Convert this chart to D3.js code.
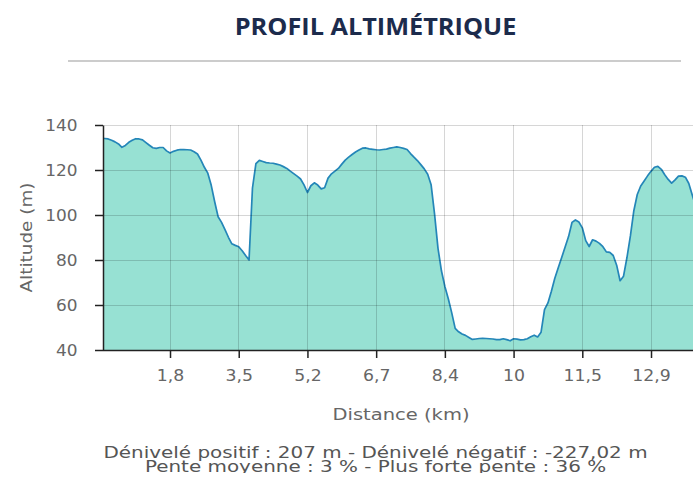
<!DOCTYPE html>
<html><head><meta charset="utf-8">
<script src="https://cdn.jsdelivr.net/npm/d3@7"></script>
<style>html,body{margin:0;padding:0;background:#fff;overflow:hidden}</style>
</head><body>
<svg id="c" width="693" height="478"></svg>
<script>
// Altitude samples (m), one per category index
const altitudes = [
134.2,134.0,133.8,133.2,132.5,131.6,130.1,130.9,132.3,133.2,
133.9,133.8,133.4,132.2,131.0,129.9,129.6,130.0,130.0,128.5,
127.6,128.3,128.8,129.1,129.1,129.0,128.9,128.1,127.1,124.4,
121.2,118.6,113.2,105.9,99.2,96.7,93.5,90.1,87.2,86.5,
85.9,84.1,82.0,80.0,112.0,122.8,124.3,123.8,123.3,123.1,
123.0,122.6,122.2,121.5,120.7,119.5,118.4,117.3,116.0,113.4,
110.0,113.0,114.3,113.3,111.6,112.1,116.4,118.3,119.5,120.7,
122.6,124.4,125.7,126.9,128.0,128.9,129.7,129.8,129.4,129.2,
129.0,128.9,129.1,129.3,129.7,130.0,130.3,130.0,129.6,129.1,
127.3,125.7,124.2,122.4,120.5,118.1,113.4,100.4,85.2,75.2,
68.2,62.8,56.5,49.6,48.1,47.1,46.5,45.6,44.7,44.9,
45.1,45.2,45.1,45.0,44.9,44.6,44.6,45.0,44.6,44.1,
45.0,44.8,44.5,44.6,45.0,45.9,46.6,45.8,47.9,57.9,
60.9,66.1,71.9,76.6,81.1,85.8,90.4,96.7,97.8,96.9,
94.3,88.6,86.0,89.0,88.4,87.4,85.9,83.6,83.4,82.0,
77.7,70.8,72.8,81.1,90.7,101.9,109.1,112.9,115.1,117.4,
119.4,121.2,121.6,120.3,117.9,115.8,114.2,115.6,117.3,117.4,
116.8,114.0,108.9,104.0,101.0,98.0
];
const tickIndices = [20,40,60,80,100,120,140,160];
const tickLabels = ["1,8","3,5","5,2","6,7","8,4","10","11,5","12,9"];
const yTicks = [40,60,80,100,120,140];
const titleText = "PROFIL ALTIMÉTRIQUE";
const statsLine1 = "Dénivelé positif : 207 m - Dénivelé négatif : -227,02 m";
const statsLine2 = "Pente moyenne : 3 % - Plus forte pente : 36 %";

(function () {
const svg = d3.select("#c");
const font = "DejaVu Sans, Verdana, sans-serif";
const pLeft = 103, pTop = 125, pBottom = 350, pRight = 740;
const step = 3.4357;
const x = d3.scaleLinear().domain([0, 1]).range([101.3, 101.3 + step]);
const y = d3.scaleLinear().domain([40, 140]).range([pBottom, pTop]);

function stretchedText(parent, tx, ty, sx, rot, size, fill, txt, family, weight) {
  return parent.append("text")
    .attr("transform", `translate(${tx},${ty}) rotate(${rot}) scale(${sx},1)`)
    .attr("text-anchor", "middle").attr("font-family", family || font)
    .attr("font-weight", weight || 400).attr("font-size", size).attr("fill", fill).text(txt);
}

// title
stretchedText(svg, 375.5, 35, 1.1, 0, 23, "#1c2b4c", titleText, "Open Sans, sans-serif", 700);
svg.append("line").attr("x1", 68).attr("x2", 681).attr("y1", 61).attr("y2", 61)
  .attr("stroke", "#cccccc").attr("stroke-width", 2);

const defs = svg.append("defs");
defs.append("clipPath").attr("id", "plot").append("rect")
  .attr("x", pLeft).attr("y", pTop - 5).attr("width", pRight - pLeft).attr("height", pBottom - pTop + 5);
defs.append("clipPath").attr("id", "ytitle").append("rect")
  .attr("x", 19.5).attr("y", 100).attr("width", 60).attr("height", 300);
defs.append("clipPath").attr("id", "stats2").append("rect")
  .attr("x", 0).attr("y", 458).attr("width", 693).attr("height", 15);

const data = altitudes.map((v, i) => ({i, v}));
const g = svg.append("g").attr("clip-path", "url(#plot)");
g.append("path").datum(data)
  .attr("d", d3.area().x(d => x(d.i)).y0(pBottom).y1(d => y(d.v)))
  .attr("fill", "#97e1d3");

// grid
const grid = svg.append("g");
yTicks.forEach(t => grid.append("line").attr("x1", pLeft).attr("x2", 693)
  .attr("y1", y(t)).attr("y2", y(t)).attr("stroke", "rgba(0,0,0,0.16)").attr("stroke-width", 1)
  .attr("shape-rendering", "crispEdges"));
tickIndices.forEach(t => grid.append("line").attr("x1", x(t)).attr("x2", x(t))
  .attr("y1", pTop).attr("y2", pBottom).attr("stroke", "rgba(0,0,0,0.16)").attr("stroke-width", 1)
  .attr("shape-rendering", "crispEdges"));

g.append("path").datum(data)
  .attr("d", d3.line().x(d => x(d.i)).y(d => y(d.v)))
  .attr("fill", "none").attr("stroke", "#2486b8").attr("stroke-width", 1.7)
  .attr("stroke-linejoin", "round");

// axes
const yAxis = svg.append("g").attr("transform", `translate(${pLeft},0)`)
  .call(d3.axisLeft(y).tickValues(yTicks).tickSize(8).tickPadding(16).tickSizeOuter(0));
yAxis.select(".domain").attr("stroke", "#222").attr("stroke-width", 1.5);
yAxis.selectAll(".tick line").attr("stroke", "#222").attr("stroke-width", 1.5);
yAxis.selectAll("text").attr("font-family", font).attr("font-size", 16).attr("fill", "#666")
  .attr("transform", "scale(1.06,1)");

const xAxis = svg.append("g").attr("transform", `translate(0,${pBottom})`)
  .call(d3.axisBottom(x).tickValues(tickIndices).tickFormat((d, k) => tickLabels[k])
    .tickSize(8).tickPadding(12).tickSizeOuter(0));
xAxis.select(".domain").attr("d", `M${pLeft},0.5H693`).attr("stroke", "#222").attr("stroke-width", 1.5);
xAxis.selectAll(".tick line").attr("stroke", "#222").attr("stroke-width", 1.5);
xAxis.selectAll("text").attr("font-family", font).attr("font-size", 16).attr("fill", "#666")
  .attr("transform", "scale(1.08,1)");

stretchedText(svg, 401, 420, 1.22, 0, 16, "#666", "Distance (km)");

stretchedText(svg.append("g").attr("clip-path", "url(#ytitle)"), 32, 237.5, 1.15, -90, 16, "#666", "Altitude (m)");

stretchedText(svg, 375.5, 457.5, 1.33, 0, 15, "#555", statsLine1);
stretchedText(svg.append("g").attr("clip-path", "url(#stats2)"), 375.5, 472, 1.33, 0, 15, "#555", statsLine2);
})();
</script>
</body></html>
